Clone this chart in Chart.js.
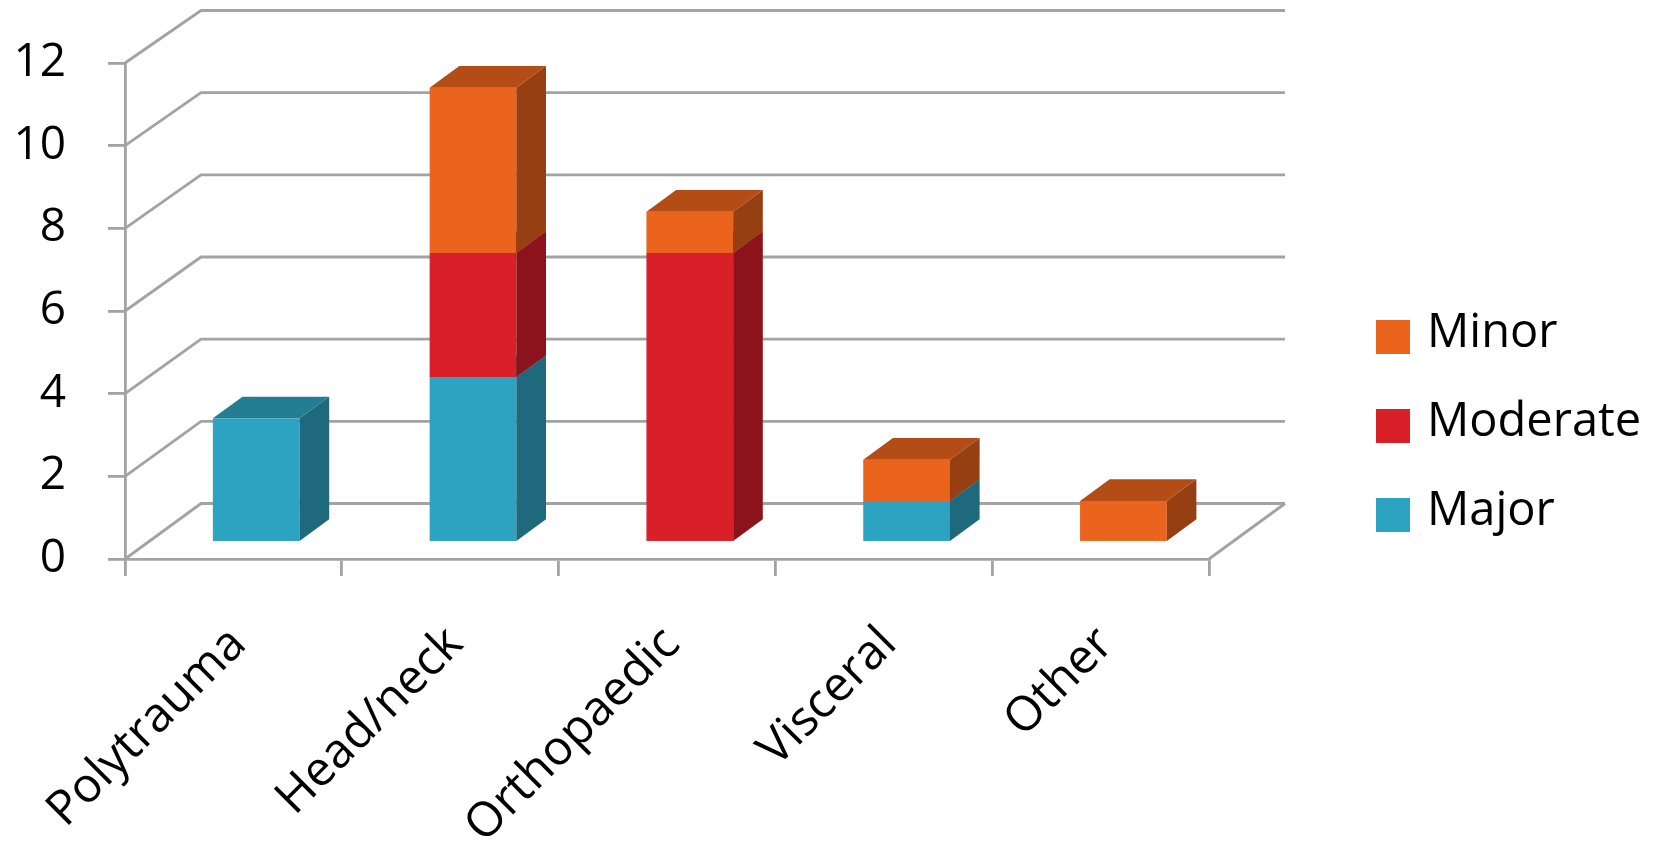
<!DOCTYPE html>
<html><head><meta charset="utf-8">
<script src="https://cdn.jsdelivr.net/npm/chart.js@4.4.0/dist/chart.umd.min.js"></script>
<style>html,body{margin:0;padding:0;background:#fff;overflow:hidden}#wrap{width:1659px;height:850px;position:relative}</style>
</head><body><div id="wrap"><canvas id="c"></canvas></div>
<script>
const categories = ['Polytrauma', 'Head/neck', 'Orthopaedic', 'Visceral', 'Other'];
const majorValues = [3, 4, 0, 1, 0];
const moderateValues = [0, 3, 7, 0, 0];
const minorValues = [0, 4, 1, 1, 1];
const yTickValues = [0, 2, 4, 6, 8, 10, 12];
const seriesNames = ['Major', 'Moderate', 'Minor'];

const palette = {
  Major:    {front: '#2ca3c0', side: '#1e697b', top: '#237d93'},
  Moderate: {front: '#d91f28', side: '#8c131b', top: '#a3171f'},
  Minor:    {front: '#ea641e', side: '#963f12', top: '#b34c15'}
};
const FONT = '"Open Sans", "DejaVu Sans", sans-serif';
const GRID = '#a3a3a3';
const GRID_W = 2.8;
// 3D depth geometry (px)
const DX = 76, DY = 55.5, PERSP = 0.994, FRONT = 0.3, DEPTH = 0.39;

function poly(ctx, pts, color) {
  ctx.beginPath();
  ctx.moveTo(pts[0][0], pts[0][1]);
  for (let i = 1; i < pts.length; i++) ctx.lineTo(pts[i][0], pts[i][1]);
  ctx.closePath();
  ctx.fillStyle = color;
  ctx.fill();
}

const threeD = {
  id: 'threeD',
  beforeDatasetsDraw(chart) {
    const {ctx, scales: {x: xs, y: ys}} = chart;
    const y0 = ys.getPixelForValue(0);
    ctx.save();
    ctx.strokeStyle = GRID;
    ctx.lineWidth = GRID_W;
    ctx.lineCap = 'butt';
    ctx.lineJoin = 'miter';
    yTickValues.forEach(v => {
      const yf = ys.getPixelForValue(v);
      const yb = y0 - DY - (y0 - yf) * PERSP;
      ctx.beginPath();
      ctx.moveTo(xs.left, yf);
      ctx.lineTo(xs.left + DX, yb);
      ctx.lineTo(xs.right + DX, yb);
      ctx.stroke();
    });
    ctx.beginPath();
    ctx.moveTo(xs.right, y0);
    ctx.lineTo(xs.right + DX, y0 - DY);
    ctx.stroke();

    const fx = DX * FRONT, fy = DY * FRONT, sx = DX * DEPTH, sy = DY * DEPTH;
    for (let i = 0; i < chart.data.labels.length; i++) {
      chart.data.datasets.forEach((ds, di) => {
        const v = ds.data[i];
        if (!v) return;
        const el = chart.getDatasetMeta(di).data[i];
        const p = el.getProps(['x', 'y', 'base', 'width'], true);
        const col = palette[ds.label];
        const l = p.x - p.width / 2 + fx, r = p.x + p.width / 2 + fx;
        const t = p.y - fy, b = p.base - fy;
        ctx.fillStyle = col.front;
        ctx.fillRect(l, t, r - l, b - t);
        poly(ctx, [[r, b], [r + sx, b - sy], [r + sx, t - sy], [r, t]], col.side);
        poly(ctx, [[l, t], [r, t], [r + sx, t - sy], [l + sx, t - sy]], col.top);
      });
    }
    ctx.restore();
    return false;
  },
  afterDraw(chart) {
    const {ctx} = chart;
    ctx.save();
    const items = chart.data.datasets.map(d => ({label: d.label, color: d.backgroundColor})).reverse();
    ctx.font = '47px ' + FONT;
    ctx.textBaseline = 'alphabetic';
    ctx.textAlign = 'left';
    items.forEach((it, k) => {
      const by = 320 + k * 89;
      ctx.fillStyle = it.color;
      ctx.fillRect(1376, by, 34, 34);
      ctx.fillStyle = '#000';
      ctx.fillText(it.label, 1427, by + 27);
    });
    ctx.restore();
  }
};

function build() {
  const seriesValues = [majorValues, moderateValues, minorValues];
  new Chart(document.getElementById('c'), {
    type: 'bar',
    data: {
      labels: categories,
      datasets: seriesNames.map((name, i) => ({
        label: name,
        data: seriesValues[i],
        backgroundColor: palette[name].front,
        categoryPercentage: 1,
        barPercentage: 0.4
      }))
    },
    options: {
      responsive: false,
      animation: false,
      devicePixelRatio: 1,
      layout: {padding: {top: 63, right: 450, left: 0, bottom: 0}},
      plugins: {legend: {display: false}, tooltip: {enabled: false}},
      scales: {
        x: {
          stacked: true,
          ticks: {font: {family: FONT, size: 48}, color: '#000', minRotation: 45, maxRotation: 45, autoSkip: false, padding: 40, labelOffset: 5},
          grid: {drawOnChartArea: false, drawTicks: true, tickLength: 17, color: GRID, lineWidth: GRID_W, offset: true},
          border: {display: true, color: GRID, width: GRID_W},
          afterFit(s) { s.height = 291; s.paddingLeft = 0; s.paddingRight = 0; }
        },
        y: {
          stacked: true, min: 0, max: 12,
          ticks: {font: {family: FONT, size: 46}, color: '#000', padding: 42},
          afterBuildTicks(s) { s.ticks = yTickValues.map(v => ({value: v})); },
          grid: {drawOnChartArea: false, drawTicks: true, tickLength: 17, color: GRID, lineWidth: GRID_W},
          border: {display: true, color: GRID, width: GRID_W},
          afterFit(s) { s.width = 125; s.paddingTop = 0; s.paddingBottom = 0; }
        }
      }
    },
    plugins: [threeD]
  });
}
const cv = document.getElementById('c');
cv.width = 1659; cv.height = 850;
cv.style.width = '1659px'; cv.style.height = '850px';
if (document.fonts && document.fonts.load) {
  document.fonts.load('46px "Open Sans"').then(build, build);
} else build();
</script>
</body></html>
